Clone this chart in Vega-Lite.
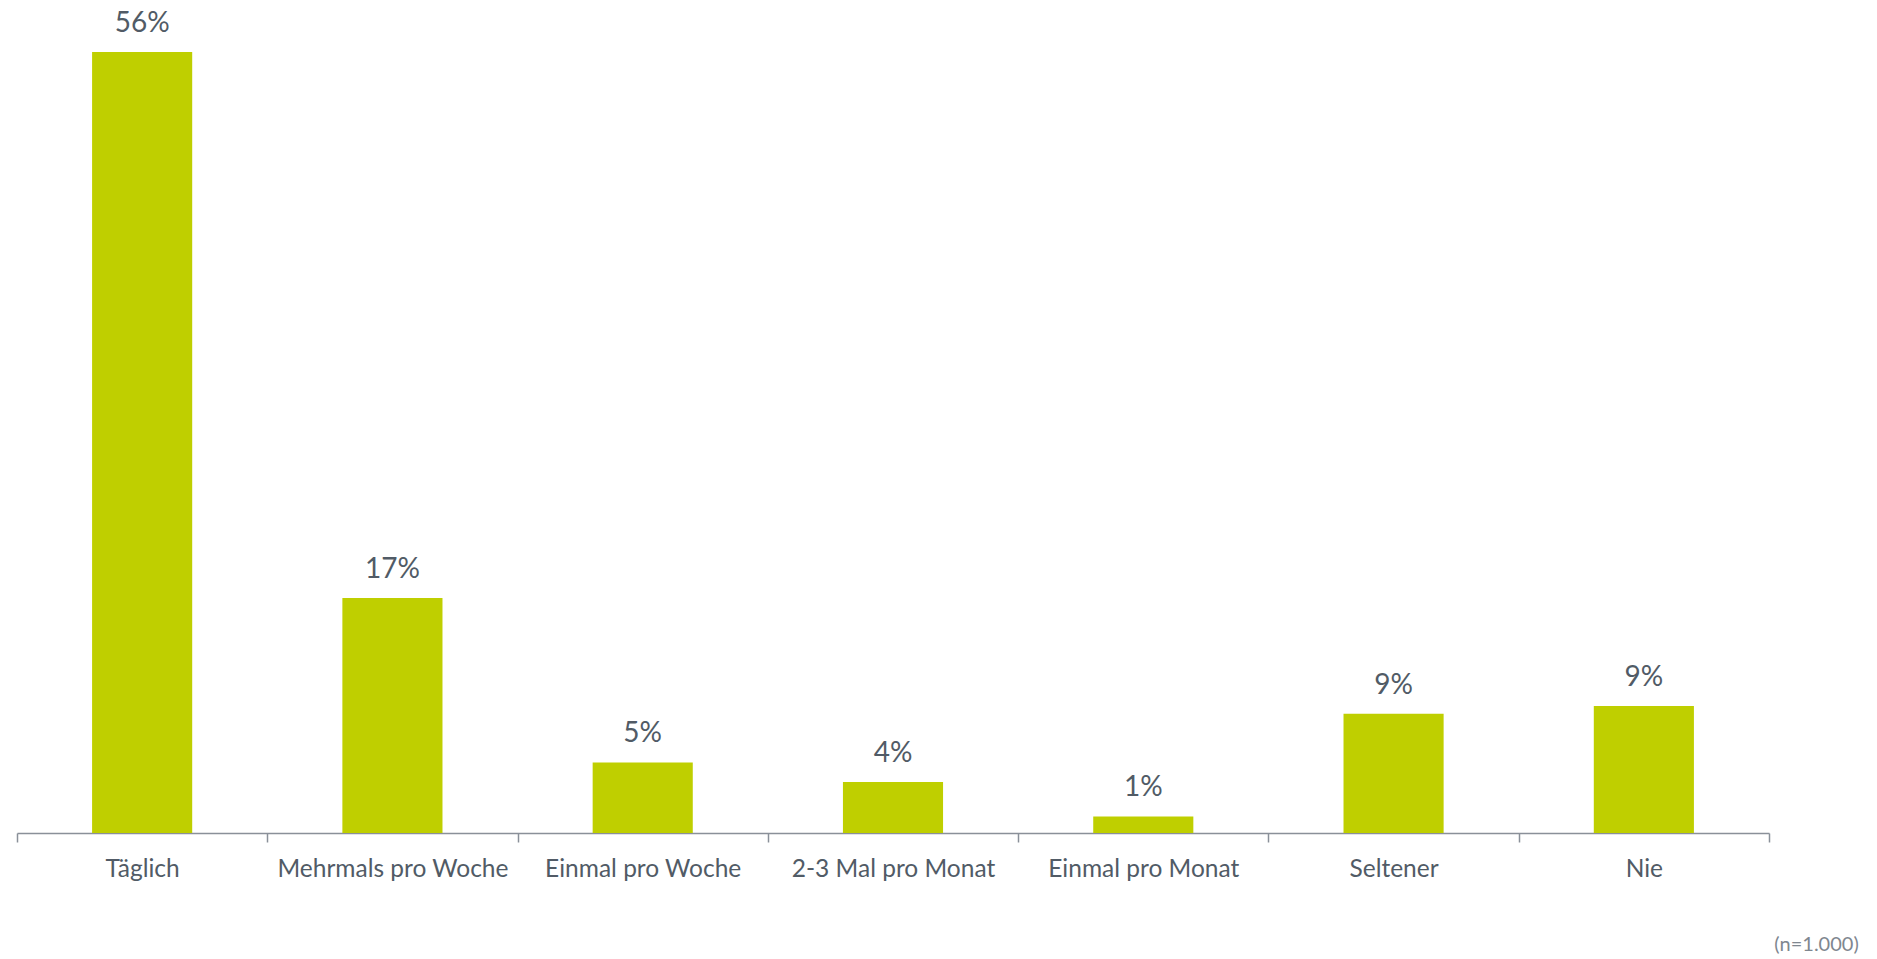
{
  "$schema": "https://vega.github.io/schema/vega-lite/v6.json",
  "width": 1752,
  "height": 809,
  "autosize": {"type": "none"},
  "padding": {"left": 17, "top": 24, "right": 108, "bottom": 126},
  "background": "white",
  "config": {"view": {"stroke": null}, "font": "Lato"},
  "title": {
    "text": "(n=1.000)",
    "orient": "bottom",
    "anchor": "end",
    "dx": 89,
    "offset": 70,
    "baseline": "alphabetic",
    "fontSize": 20,
    "fontWeight": "normal",
    "color": "#7f8790",
    "font": "Lato"
  },
  "data": {
    "values": [
      {"kategorie": "Täglich", "wert": 56.0, "label": "56%"},
      {"kategorie": "Mehrmals pro Woche", "wert": 16.84, "label": "17%"},
      {"kategorie": "Einmal pro Woche", "wert": 5.06, "label": "5%"},
      {"kategorie": "2-3 Mal pro Monat", "wert": 3.65, "label": "4%"},
      {"kategorie": "Einmal pro Monat", "wert": 1.19, "label": "1%"},
      {"kategorie": "Seltener", "wert": 8.55, "label": "9%"},
      {"kategorie": "Nie", "wert": 9.1, "label": "9%"}
    ]
  },
  "encoding": {
    "x": {
      "field": "kategorie",
      "type": "nominal",
      "sort": null,
      "scale": {"paddingInner": 0, "paddingOuter": 0},
      "axis": {
        "title": null,
        "labelAngle": 0,
        "labelLimit": 0,
        "tickBand": "extent",
        "domainColor": "#8a9099",
        "domainWidth": 1.5,
        "tickColor": "#8a9099",
        "tickWidth": 1.5,
        "tickSize": 9,
        "labelPadding": 15,
        "labelFontSize": 24.5,
        "labelColor": "#515b66",
        "labelFont": "Lato",
        "grid": false
      }
    },
    "y": {
      "field": "wert",
      "type": "quantitative",
      "scale": {"domain": [0, 58], "nice": false},
      "axis": null
    }
  },
  "layer": [
    {
      "mark": {"type": "bar", "color": "#bfcf00", "width": {"band": 0.4}}
    },
    {
      "mark": {
        "type": "text",
        "baseline": "alphabetic",
        "align": "center",
        "dy": -20,
        "fontSize": 28,
        "color": "#515b66",
        "font": "Lato"
      },
      "encoding": {"text": {"field": "label"}}
    }
  ]
}
